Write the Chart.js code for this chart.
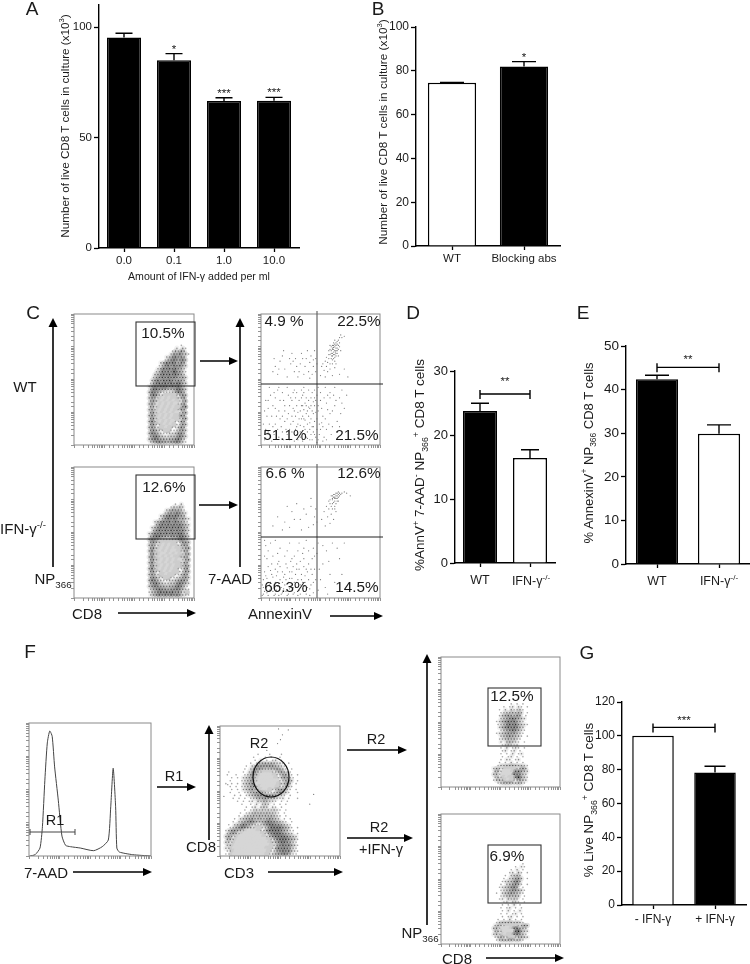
<!DOCTYPE html>
<html>
<head>
<meta charset="utf-8">
<title>IFN-gamma CD8 T cells</title>
<script src="https://cdn.jsdelivr.net/npm/chart.js@4"></script>
<style>
  html, body { margin: 0; padding: 0; background: #fff; }
  #page { position: relative; width: 750px; height: 964px; overflow: hidden; font-family: "Liberation Sans", Arial, sans-serif; color: #1a1a1a; }
  canvas { position: absolute; }
  svg { position: absolute; left: 0; top: 0; }
  .t { position: absolute; white-space: nowrap; line-height: 1; transform: translate(-50%, -50%); }
  .t sup, .t sub { font-size: 65%; line-height: 0; }
</style>
</head>
<body>
<div id="page"></div>
<script>
// panel A
const doseLabels = ['0.0', '0.1', '1.0', '10.0'];
const doseValues = [95.3, 85, 66.5, 66.7];
const doseErrTop = [97.2, 88, 68, 68.2];
const doseStars = ['', '*', '***', '***'];
const doseTicks = [0, 50, 100];
// panel B
const blockLabels = ['WT', 'Blocking abs'];
const blockValues = [74.5, 82];
const blockErrTop = [74.7, 84.2];
const blockStars = ['', '*'];
const blockTicks = [0, 20, 40, 60, 80, 100];
// panel D
const koLabels = ['WT', ''];
const annValues = [23.75, 16.4];
const annErrTop = [24.95, 17.7];
const annTicks = [0, 10, 20, 30];
// panel E
const annexValues = [42.4, 29.9];
const annexErrTop = [43.3, 31.9];
const annexTicks = [0, 10, 20, 30, 40, 50];
// panel G
const liveLabels = ['- IFN-γ', '+ IFN-γ'];
const liveValues = [100, 78.3];
const liveErrTop = [100, 82];
const liveTicks = [0, 20, 40, 60, 80, 100, 120];

// panel F histogram, 7-AAD channel vs. count (both as % of axis)
const histChannel = [0.5, 5, 9, 11, 13, 15, 17, 19, 21, 24, 27, 30, 34, 42, 53, 60, 65, 67, 69, 71, 72, 74, 85, 100];
const histCount = [0, 1, 6, 22, 57, 85, 94, 90, 67, 42, 15, 8, 7, 6, 4, 7, 12, 37, 66, 37, 6, 3, 1, 0];

// flow plots: density, one digit per cell (1 pale core .. 9 darkest)
const wtDensity = [
  "............3..", "..........4.53.", ".........36475.", "........4768563", ".......4578676.",
  "......36787786.", ".....468787576.", "....3578687865.", "....4687878664.", "...45878697753.",
  "...56787878764.", "..467878787675.", "..578687876765.", ".3678787878865.", ".4787888787864.",
  ".5887776668875.", ".5876533346875.", ".6874322223576.", ".5763212122467.", ".6752121212357.",
  ".5741212121367.", ".6632121212268.", ".5742121212376.", ".6731212121367.", ".5742121212276.",
  ".6731212122367.", ".5842121213376.", ".6743212123476.", ".5753221233575.", ".6764322334675.",
  ".5875433445775.", ".6786544556875.", ".5787665667864.", ".4678776778753."
];
const koDensity = [
  "..........3.4..", "........35464..", ".......4576653.", "......46768764.", ".....467878765.",
  "....35787876754", "...467878687653", "...578787878764", "..4678787878765", "..5787878787864",
  ".46878787878865", ".57887767778874", ".68764444557865", ".67642222234776", ".57532121223576",
  ".67421212122467", ".58321212112376", ".67421121212367", ".58321212122476", ".67421212121367",
  ".58321212122376", ".67421212122476", ".58321212123367", ".67432121223476", ".57532212233576",
  ".67643223345675", ".58754334456775", ".67865445578764", ".57876656678753", ".46787767787643",
  ".35678787867532", ".46787878787543"
];
const cd3Density = [
  "............3...3...3.....", "..........3...3.3..3......", "...........3.4.3.34.3.....",
  ".........3.3556565443.3...", "........3.457777776543....", ".......3.4677655667653.3..",
  "..3....3.467532223467543..", ".3..3..34675211112346743.3", "...3.3.456742111112367643.",
  "..3...345673111111134675 3.", ".3.3.3.45672111111124574.3", "..3.3.345673211111234653..",
  "...3.3.45674321123467643.3", "..3..3.3456765433467653..3", "....3.3.34567777776543.3..",
  "...3.3.3.345667655434.3..3", ".....3.3.34.5465443.3.3...", "......3..3.4.454.3.3.3....",
  "........3.34.454.43.3.....", ".......3.34545454543.3....", "......3.345656565543.3....",
  ".....3.4556565656543.3....", "....3.45667566567654 3.3...", "...3.45678765678776543.3..",
  "..3.45687654346788776543..", "..3467876532234688887653.3", ".357765321112347888876533.",
  ".46763211111123678887654 3.", ".5753211111111236788887654.", ".5642111111111123578887653.",
  ".5532111111111112467887643.", ".4521111111111112367878653.", ".4421111111111122368787643.",
  ".3421111111111123467878543.", ".3321111111111123567787533."
];
const npDensity = [
  "......3.3.3.", "...3.34.43.3", "..3.4.53453.", "..34556565.3", "..35676576.3", "..456787654.",
  ".3467878653.", ".34578786543", "..467878754.", "..356787643.", ".3456767543.", "..45676553.3",
  "..34565643..", "..4.56543.3.", "...345434...", "..3.4.343.3.", "...34.34.3..", "..3.3.4.34..",
  "...3.34.3.3.", "..3.43.34...", "..3.3.4.3.3.", ".35566665543", "465322223575", "563111278654",
  "563111187754", "463212279653", "356421234654", ".3566655653."
];
const npIfnDensity = [
  "..........3.", ".......3.43.", "......3.4.3.", ".....34.53.3", "....3.4564..", "...3.45675.3",
  "...3455785..", "..3.456763.3", "..3456786.3.", "..345677653.", ".3.45676543.", "..3456565.3.",
  "..34.5454.3.", "...34.443.3.", "...3.3.4.3..", "..3.34.3.3..", "...3.4.3.4..", "..3.3.34.3..",
  "...3.34.3.3.", ".3.3.4.3.3..", ".3566665653.", "465322223576", "563111278654", "564111189654",
  "463212278653", "356432235654", ".3566665653."
];
const cd3Stray = [[60, 3], [70, 4], [64, 9], [62, 14], [59, 18], [48, 25], [8, 60], [4, 72], [96, 70], [92, 80]];

// AnnexinV / 7-AAD dots, % of axis
const wtAnnexin = [
  [60,74],[61,76],[62,72],[63,78],[62,75],[64,74],[59,72],[60,70],[61,71],[63,70],[58,76],[62,80],[65,80],[66,82],[64,77],
  [60,68],[58,69],[61,66],[63,68],[62,64],[59,66],[57,72],[65,76],[64,72],[66,78],[61,78],[59,75],[62,69],[60,73],[63,74],
  [67,84],[68,82],[70,83],[57,66],[56,63],[60,62],[55,60],[58,58],[53,57],[52,62],[56,56],[50,53],[54,52],[51,60],[62,59],
  [66,54],[60,53],[70,58],[73,52],
  [61,73],[62,77],[60,76],[63,72],[61,69],[64,70],[62,67],[59,70],[60,65],[58,73],[63,76],[65,73],[61,74.5],[62.5,71],[59.5,68],
  [64,79],[66,75],[57,69],[58,62],[54,64],[63,62],[65,68],[67,72],[55,67],
  [12,60],[16,64],[20,58],[24,66],[28,56],[33,62],[38,66],[42,68],[44,60],[40,56],[36,54],[30,60],[22,52],[14,54],[26,70],
  [34,70],[41,63],[43,54],[46,66],[18,68],[10,56],[37,60],[45,72],[31,52],[25,62],
  [11,66],[15,58],[19,72],[27,64],[32,56],[35,66],[39,72],[44,65],[46,56],[41,51],[29,66],[47,62],
  [3,4],[6,10],[9,3],[12,16],[15,6],[18,22],[21,12],[24,4],[27,18],[30,8],[33,26],[36,14],[39,5],[42,20],[44,10],[45,30],
  [40,34],[35,38],[30,30],[25,36],[20,30],[15,26],[10,30],[5,22],[8,38],[14,42],[22,44],[28,42],[36,44],[43,40],[4,34],
  [2,16],[11,8],[17,14],[23,24],[29,22],[34,20],[38,24],[41,12],[44,24],[46,6],[37,8],[31,16],[26,10],[19,4],[13,22],
  [7,16],[16,34],[24,30],[32,34],[38,30],[42,36],[45,18],[43,4],[35,3],[28,3],[20,18],[27,28],[33,10],[39,16],[41,28],
  [45,42],[18,40],[12,36],[6,28],[9,22],[30,40],[22,8],[44,33],[37,19],[34,30],[25,16],[29,12],[42,8],[40,22],[36,27],
  [31,25],[33,15],[35,22],[37,32],[39,10],[40,29],[41,17],[43,26],[44,14],[45,36],[46,25],[38,36],[36,40],[34,42],[32,20],
  [30,14],[28,26],[26,34],[24,12],[22,20],[20,26],[18,10],[16,20],[14,12],[12,28],[10,14],[8,6],[6,34],[4,12],[3,26],
  [26,22],[29,36],[33,6],[35,30],[37,12],[39,26],[41,4],[43,14],[45,8],[46,34],[42,30],[40,42],[38,6],[36,20],[34,36],
  [31,4],[27,40],[23,38],[19,34],[15,44],[11,40],[7,44],
  [48,4],[50,12],[52,22],[55,32],[58,40],[62,44],[66,36],[70,28],[48,30],[47,20],[53,6],[57,16],[60,26],[64,18],[68,42],
  [50,40],[54,44],[59,8],[63,34],[47,38],[49,8],[51,17],[56,27],[61,38],[72,38],[67,24],[52,3],[48,44],[55,12],[58,36],
  [47,12],[48,26],[50,34],[52,14],[54,20],[56,38],[58,24],[60,14],[62,30],[64,10],[66,14],[68,32],[53,36],[49,16],[47,2],[51,28],[55,4]
];
const koAnnexin = [
  [60,78],[62,79],[64,78],[63,80],[61,77],[65,79],[66,80],[59,78],[63,76],[65,77],[68,80],[70,81],[62,74],[60,75],[64,74],
  [58,72],[62,70],[60,68],[57,74],[63,66],[59,64],[55,70],[56,62],[53,66],[51,60],[61,60],[58,57],[54,55],[72,80],[75,78],
  [61,79],[62,77],[64,80],[63,78],[65,81],[60,76],[62,76],[66,78],[64,76],[61,73],[63,72],[59,70],[62,68],[58,75],[60,72],[65,74],[67,79],[57,68],
  [14,62],[20,58],[26,66],[30,72],[33,60],[38,64],[42,70],[45,62],[40,54],[34,52],[24,54],[46,68],[44,56],[28,60],[36,68],
  [18,52],[22,70],[42,76],[47,58],[10,55],
  [2,3],[4,8],[6,2],[8,12],[10,5],[12,3],[14,9],[16,14],[18,4],[20,10],[22,2],[24,7],[26,15],[28,4],[30,12],[32,6],[34,18],
  [36,9],[38,3],[40,14],[2,14],[3,20],[6,24],[9,18],[12,22],[15,28],[18,20],[21,26],[24,20],[27,24],[30,22],[33,28],[36,24],
  [39,20],[42,10],[44,4],[45,22],[43,30],[40,36],[35,34],[28,32],[22,36],[16,38],[10,32],[5,30],[4,40],[12,44],[24,42],[32,42],
  [38,44],[44,38],[7,6],[11,10],[15,2],[19,16],[23,12],[27,8],[31,2],[35,12],[37,17],[41,7],[5,15],[13,17],[25,28],[29,18],
  [17,8],[21,5],[33,10],[9,26],[1,10],[3,32],[46,14],[43,18],[14,34],
  [1,2],[3,5],[5,4],[7,10],[9,7],[11,2],[13,6],[15,11],[17,3],[19,7],[21,14],[23,3],[25,9],[27,3],[29,8],[31,14],[33,3],[35,7],
  [37,12],[39,8],[41,2],[2,8],[4,17],[6,12],[8,21],[10,16],[12,12],[14,20],[16,24],[18,12],[20,18],[22,23],[24,15],[26,20],
  [28,12],[30,26],[32,22],[34,14],[36,30],[38,22],[40,26],[42,22],[44,12],[45,32],[6,36],[14,26],[20,32],[26,30],[31,36],[36,38],[3,44],[8,42],
  [48,6],[50,14],[52,26],[55,36],[60,42],[66,30],[47,34],[49,22],[54,8],[58,18],[62,12],[52,40],[57,28],[64,38],[70,42],[48,42],[56,3],[68,18]
];

// per digit: wash behind the cell and speck on top of it
const washColors = ['', '#d6d6d6', '#cdcdcd', '', 'rgba(90,90,90,.08)', 'rgba(90,90,90,.13)', 'rgba(90,90,90,.18)', 'rgba(80,80,80,.24)', 'rgba(70,70,70,.32)', 'rgba(60,60,60,.42)'];
const speckColors = ['', '', '', 'rgba(40,40,40,.42)', 'rgba(40,40,40,.5)', 'rgba(30,30,30,.58)', 'rgba(30,30,30,.65)', 'rgba(20,20,20,.72)', 'rgba(10,10,10,.8)', '#000'];
const CELL = 3;
const page = document.getElementById('page');

Chart.defaults.font.family = '"Liberation Sans", Arial, sans-serif';
Chart.defaults.color = '#1a1a1a';
Chart.defaults.animation = false;
Chart.defaults.responsive = false;
Chart.defaults.plugins.legend.display = false;
Chart.defaults.plugins.tooltip.enabled = false;

function addCanvas(left, top, w, h) {
  const c = document.createElement('canvas');
  c.width = w; c.height = h;
  c.style.left = left + 'px'; c.style.top = top + 'px';
  page.appendChild(c);
  return c;
}

function txt(x, y, html, size, rot) {
  const d = document.createElement('div');
  d.className = 't';
  d.innerHTML = html;
  d.style.left = x + 'px';
  d.style.top = y + 'px';
  d.style.fontSize = size + 'px';
  if (rot) d.style.transform = 'translate(-50%, -50%) rotate(' + rot + 'deg)';
  page.appendChild(d);
}

// error bars, stars and brackets go through the chart's own scales
const barMarks = {
  id: 'barMarks',
  afterDatasetsDraw(chart, args, o) {
    const { ctx, scales: { x, y } } = chart;
    ctx.save();
    ctx.strokeStyle = '#000';
    ctx.fillStyle = '#1a1a1a';
    ctx.lineWidth = 1.4;
    ctx.textAlign = 'center';
    ctx.font = '11.5px "Liberation Sans"';
    const values = chart.data.datasets[0].data;
    o.err.forEach((top, i) => {
      if (top <= values[i]) return;
      const px = x.getPixelForValue(i), py = y.getPixelForValue(top);
      ctx.beginPath();
      ctx.moveTo(px, y.getPixelForValue(values[i]));
      ctx.lineTo(px, py);
      ctx.moveTo(px - o.cap, py);
      ctx.lineTo(px + o.cap, py);
      ctx.stroke();
      if (o.stars && o.stars[i]) ctx.fillText(o.stars[i], px, py - 1);
    });
    if (o.bracket) {
      const b = o.bracket;
      const x0 = x.getPixelForValue(b.from), x1 = x.getPixelForValue(b.to), py = y.getPixelForValue(b.y);
      ctx.beginPath();
      ctx.moveTo(x0, py - 4); ctx.lineTo(x0, py + 5);
      ctx.moveTo(x1, py - 4); ctx.lineTo(x1, py + 5);
      ctx.moveTo(x0, py); ctx.lineTo(x1, py);
      ctx.stroke();
      ctx.fillText(b.label, (x0 + x1) / 2, py - b.gap);
    }
    ctx.restore();
  }
};

function barChart(cfg) {
  const LEFT = 36, BOTTOM = 26, TOP = 12, RIGHT = 2;
  const w = cfg.x1 - cfg.x0, h = cfg.y1 - cfg.y0;
  const c = addCanvas(cfg.x0 - LEFT, cfg.y0 - TOP, w + LEFT + RIGHT, h + TOP + BOTTOM);
  return new Chart(c, {
    type: 'bar',
    data: {
      labels: cfg.labels,
      datasets: [{
        data: cfg.values,
        backgroundColor: cfg.fills,
        borderColor: '#000',
        borderWidth: 1.5,
        borderSkipped: 'bottom',
        barPercentage: cfg.barPct,
        categoryPercentage: 1
      }]
    },
    options: {
      layout: { padding: { top: TOP, right: RIGHT } },
      scales: {
        x: {
          grid: { display: true, offset: false, drawOnChartArea: false, tickLength: 4, tickColor: '#000', tickWidth: 1.3 },
          border: { color: '#000', width: 1.4 },
          ticks: { font: { size: cfg.xFont }, padding: cfg.xPad || 2, maxRotation: 0, autoSkip: false, color: '#1a1a1a' },
          afterFit: s => { s.height = BOTTOM; }
        },
        y: {
          min: 0,
          max: cfg.max,
          grid: { drawOnChartArea: false, tickLength: 5, tickColor: '#000', tickWidth: 1.3 },
          border: { color: '#000', width: 1.4 },
          ticks: { font: { size: cfg.yFont }, padding: 2, color: '#1a1a1a' },
          afterBuildTicks: s => { s.ticks = cfg.ticks.map(v => ({ value: v })); },
          afterFit: s => { s.width = LEFT; }
        }
      },
      plugins: { barMarks: { err: cfg.err, cap: cfg.cap, stars: cfg.stars, bracket: cfg.bracket } }
    },
    plugins: [barMarks]
  });
}

function flowChart(box, unitsX, unitsY, datasets) {
  const LEFT = 5, BOTTOM = 4;
  const c = addCanvas(box.x - LEFT, box.y - 1, box.w + LEFT + 1, box.h + 1 + BOTTOM);
  return new Chart(c, {
    type: 'scatter',
    data: { datasets },
    options: {
      layout: { padding: { top: 1, right: 1 } },
      scales: {
        x: { type: 'linear', min: 0, max: unitsX, display: false },
        y: { type: 'linear', min: 0, max: unitsY, display: false, reverse: unitsY !== 100 },
        decadeX: {
          type: 'logarithmic', axis: 'x', position: 'bottom', min: 1, max: 10000,
          grid: { drawOnChartArea: false, tickLength: 3, tickColor: '#666', tickWidth: 0.7 },
          border: { display: false },
          ticks: { display: false, autoSkip: false },
          afterFit: s => { s.height = BOTTOM; }
        },
        decadeY: {
          type: 'logarithmic', axis: 'y', position: 'left', min: 1, max: 10000,
          grid: { drawOnChartArea: false, tickLength: 3, tickColor: '#666', tickWidth: 0.7 },
          border: { display: false },
          ticks: { display: false, autoSkip: false },
          afterFit: s => { s.width = LEFT; }
        }
      }
    },
    plugins: [{
      id: 'plotBox',
      afterDatasetsDraw(chart) {
        const a = chart.chartArea, ctx = chart.ctx;
        ctx.save();
        ctx.strokeStyle = '#8a8a8a';
        ctx.lineWidth = 1;
        ctx.strokeRect(a.left, a.top, a.width, a.height);
        ctx.restore();
      }
    }]
  });
}

// specks come first in the list: Chart.js paints the first dataset last
function densityDatasets(rows, ox, oy) {
  const wash = [], washFill = [], specks = [], speckFill = [];
  rows.forEach((row, r) => {
    const shift = r % 2 ? CELL / 2 : 0;
    [...row].forEach((ch, col) => {
      if (ch === '.' || ch === ' ') return;
      const p = { x: ox + col * CELL + shift, y: oy + r * CELL };
      if (washColors[+ch]) { wash.push(p); washFill.push(washColors[+ch]); }
      if (speckColors[+ch]) { specks.push(p); speckFill.push(speckColors[+ch]); }
    });
  });
  return [
    { data: specks, pointRadius: 0.8, pointBorderWidth: 0, pointBackgroundColor: speckFill },
    { data: wash, pointRadius: 2.6, pointBorderWidth: 0, pointBackgroundColor: washFill }
  ];
}

function dotDataset(pairs) {
  return {
    data: pairs.map(p => ({ x: p[0], y: p[1] })),
    pointRadius: 0.6, pointBorderWidth: 0, pointBackgroundColor: '#777'
  };
}

// bars
barChart({ x0: 99, x1: 299, y0: 5, y1: 248, max: 110, labels: doseLabels, values: doseValues, err: doseErrTop, stars: doseStars,
  ticks: doseTicks, fills: ['#000', '#000', '#000', '#000'], barPct: 0.68, cap: 8.5, xFont: 11.5, yFont: 11.5 });
barChart({ x0: 416, x1: 560, y0: 27, y1: 246, max: 100, labels: blockLabels, values: blockValues, err: blockErrTop, stars: blockStars,
  ticks: blockTicks, fills: ['#fff', '#000'], barPct: 0.67, cap: 12, xFont: 11.5, yFont: 12 });
barChart({ x0: 455, x1: 555, y0: 371, y1: 563, max: 30, labels: koLabels, values: annValues, err: annErrTop,
  ticks: annTicks, fills: ['#000', '#fff'], barPct: 0.68, cap: 9, xFont: 12.5, yFont: 13, xPad: 6,
  bracket: { from: 0, to: 1, y: 26.4, label: '**', gap: 9 } });
barChart({ x0: 626, x1: 750, y0: 346, y1: 564, max: 50, labels: koLabels, values: annexValues, err: annexErrTop,
  ticks: annexTicks, fills: ['#000', '#fff'], barPct: 0.68, cap: 12, xFont: 12.5, yFont: 13.5, xPad: 6,
  bracket: { from: 0, to: 1, y: 45.1, label: '**', gap: 4 } });
barChart({ x0: 622, x1: 746, y0: 702, y1: 905, max: 120, labels: liveLabels, values: liveValues, err: liveErrTop,
  ticks: liveTicks, fills: ['#fff', '#000'], barPct: 0.67, cap: 10.5, xFont: 12, yFont: 12, xPad: 3,
  bracket: { from: 0, to: 1, y: 105, label: '***', gap: 3 } });

// flow plots
flowChart({ x: 74, y: 311, w: 123, h: 134 }, 123, 134, densityDatasets(wtDensity, 74, 32));
flowChart({ x: 74, y: 464, w: 123, h: 134 }, 123, 134, densityDatasets(koDensity, 74, 38));
flowChart({ x: 261, y: 311, w: 122, h: 134 }, 100, 100, [dotDataset(wtAnnexin)]);
flowChart({ x: 261, y: 464, w: 122, h: 134 }, 100, 100, [dotDataset(koAnnexin)]);
flowChart({ x: 220, y: 723, w: 123, h: 133 }, 123, 133, [dotDataset(cd3Stray)].concat(densityDatasets(cd3Density, 3, 29)));
flowChart({ x: 441, y: 654, w: 122, h: 133 }, 122, 133, densityDatasets(npDensity, 54, 48));
flowChart({ x: 441, y: 811, w: 122, h: 133 }, 122, 133, densityDatasets(npIfnDensity, 54, 51));
flowChart({ x: 29, y: 723, w: 122, h: 133 }, 100, 100, [{
  data: histChannel.map((v, i) => ({ x: v, y: histCount[i] })),
  showLine: true, borderColor: '#444', borderWidth: 1, tension: 0.2, pointRadius: 0
}]);

// gates and arrows
const svgNS = 'http://www.w3.org/2000/svg';
const svg = document.createElementNS(svgNS, 'svg');
svg.setAttribute('width', 750);
svg.setAttribute('height', 964);
page.appendChild(svg);

function shape(tag, attrs) {
  const el = document.createElementNS(svgNS, tag);
  Object.keys(attrs).forEach(k => el.setAttribute(k, attrs[k]));
  svg.appendChild(el);
}
function gate(x, y, w, h) {
  shape('rect', { x, y, width: w, height: h, fill: 'none', stroke: '#333', 'stroke-width': 1.1 });
}
function line(x1, y1, x2, y2, color, width) {
  shape('line', { x1, y1, x2, y2, stroke: color, 'stroke-width': width });
}
function arrow(x1, y1, x2, y2) {
  const horizontal = y1 === y2;
  const s = horizontal ? Math.sign(x2 - x1) : Math.sign(y2 - y1);
  if (horizontal) {
    line(x1, y1, x2 - s * 8, y2, '#000', 1.5);
    shape('polygon', { points: `${x2},${y2} ${x2 - s * 9},${y2 - 4} ${x2 - s * 9},${y2 + 4}`, fill: '#000' });
  } else {
    line(x1, y1, x2, y2 - s * 8, '#000', 1.6);
    shape('polygon', { points: `${x2},${y2} ${x2 - 4.5},${y2 - s * 9} ${x2 + 4.5},${y2 - s * 9}`, fill: '#000' });
  }
}

gate(136, 322, 59, 64);
gate(136, 475, 59, 64);
gate(488, 688, 53, 58);
gate(488, 845, 53, 58);
line(317, 311, 317, 445, '#666', 1.2);
line(261, 384, 383, 384, '#222', 1);
line(317, 464, 317, 598, '#666', 1.2);
line(261, 537, 383, 537, '#222', 1);
shape('ellipse', { cx: 271, cy: 777, rx: 18, ry: 20, fill: 'none', stroke: '#111', 'stroke-width': 1.2 });
line(30, 832, 75, 832, '#444', 1);
line(30, 829, 30, 835, '#444', 1);
line(75, 829, 75, 835, '#444', 1);

arrow(53, 567, 53, 318);
arrow(240, 567, 240, 318);
arrow(200, 361, 238, 361);
arrow(199, 505, 238, 505);
arrow(118, 613, 196, 613);
arrow(330, 616, 383, 616);
arrow(73, 872, 152, 872);
arrow(157, 787, 196, 787);
arrow(209, 840, 209, 725);
arrow(268, 872, 343, 872);
arrow(347, 750, 407, 750);
arrow(347, 838, 413, 838);
arrow(427, 925, 427, 654);
arrow(486, 958, 564, 958);

// text
[['A', 32, 8], ['B', 378, 8], ['C', 33, 312], ['D', 413, 312], ['E', 583, 312], ['F', 30, 651], ['G', 587, 652]]
  .forEach(p => txt(p[1], p[2], p[0], 19));

txt(65, 126, 'Number of live CD8 T cells in culture (x10<sup>3</sup>)', 11.7, -90);
txt(199, 276, 'Amount of IFN-γ added per ml', 10.6);
txt(384, 132, 'Number of live CD8 T cells in culture (x10<sup>3</sup>)', 11.8, -90);
txt(420, 465, '%AnnV<sup>+</sup> 7-AAD<sup>-</sup> NP<sub>366</sub><sup>+</sup> CD8 T cells', 13.5, -90);
txt(588, 453, '% AnnexinV<sup>+</sup> NP<sub>366</sub> CD8 T cells', 13, -90);
txt(589, 800, '% Live NP<sub>366</sub><sup>+</sup> CD8 T cells', 13.4, -90);
txt(531, 581, 'IFN-γ<sup>-/-</sup>', 12.5);
txt(719, 581, 'IFN-γ<sup>-/-</sup>', 12.5);

txt(25, 386, 'WT', 15);
txt(23, 528, 'IFN-γ<sup>-/-</sup>', 15);
txt(53, 578, 'NP<sub>366</sub>', 15);
txt(230, 578, '7-AAD', 15);
txt(87, 613, 'CD8', 15);
txt(280, 613, 'AnnexinV', 15);
[['10.5%', 163, 333], ['12.6%', 164, 487], ['4.9 %', 284, 321], ['22.5%', 359, 321], ['51.1%', 285, 435], ['21.5%', 357, 435],
 ['6.6 %', 285, 473], ['12.6%', 359, 473], ['66.3%', 286, 587], ['14.5%', 357, 587], ['12.5%', 512, 696], ['6.9%', 507, 856]]
  .forEach(p => txt(p[1], p[2], p[0], 15.3));
txt(55, 820, 'R1', 14.5);
txt(174, 776, 'R1', 14.5);
txt(259, 743, 'R2', 14.5);
txt(376, 739, 'R2', 14.5);
txt(379, 827, 'R2', 14.5);
txt(381, 849, '+IFN-γ', 14.5);
txt(46, 872, '7-AAD', 15);
txt(201, 846, 'CD8', 15);
txt(239, 872, 'CD3', 15);
txt(420, 932, 'NP<sub>366</sub>', 15);
txt(457, 958, 'CD8', 15);
</script>
</body>
</html>
